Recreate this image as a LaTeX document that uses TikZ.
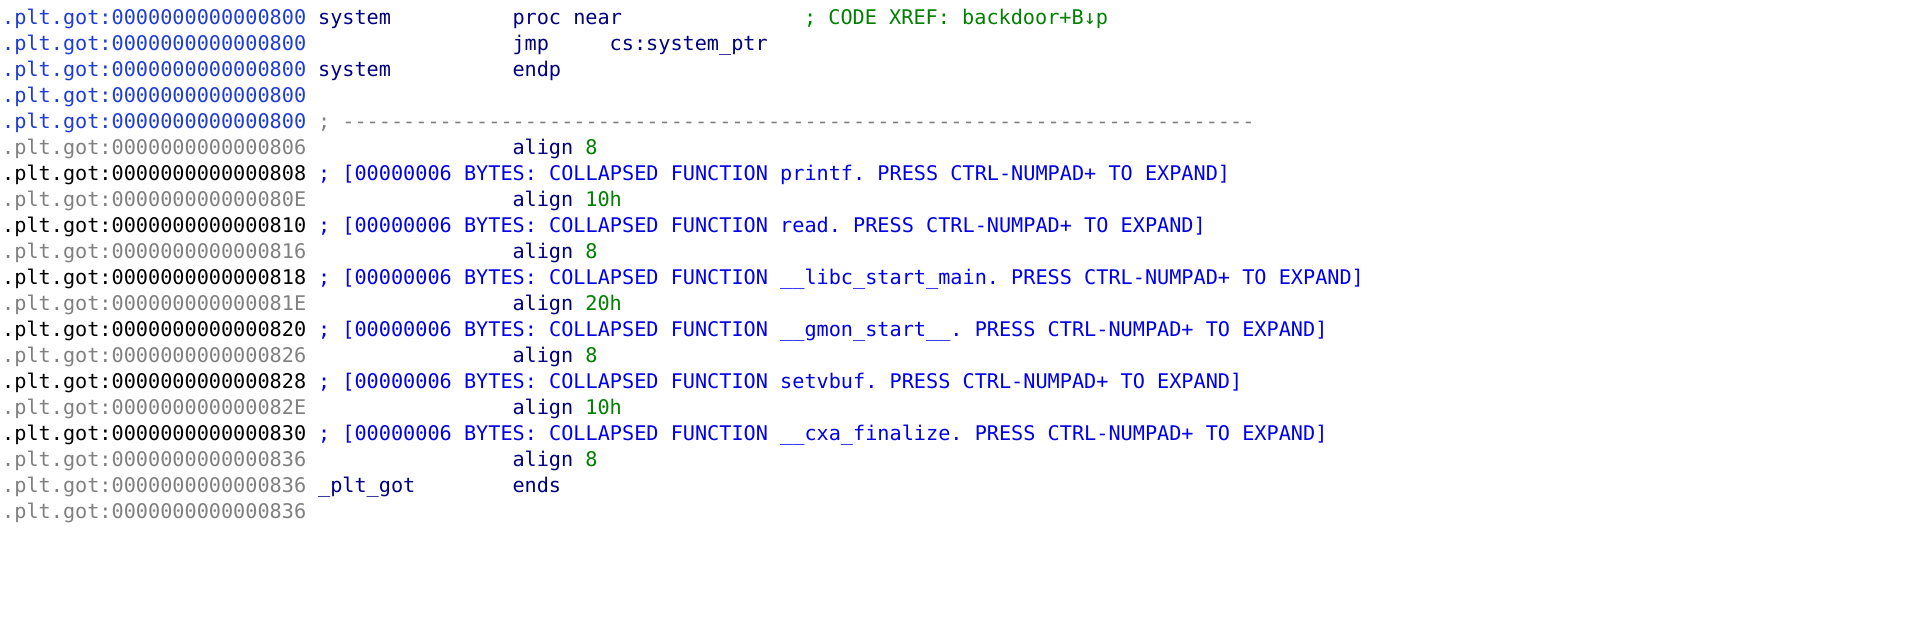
\documentclass[tikz,border=0pt]{standalone}
\usepackage{fontspec}
\setmonofont{DejaVu Sans Mono}
\usetikzlibrary{positioning}
\definecolor{addrblue}{RGB}{30,60,215}
\definecolor{addrgrey}{RGB}{128,128,128}
\definecolor{insnavy}{RGB}{0,0,128}
\definecolor{colblue}{RGB}{0,0,235}
\definecolor{cmtgreen}{RGB}{0,128,0}
% one text piece: line, column, colour, name, text
\newcommand{\seg}[5]{\node[codetxt,text=#3] (#4) at ({2+12.15*#2},{619-26*#1}) {#5};}
\newcommand{\addr}[3]{\seg{#1}{0}{#2}{a#1}{.plt.got:#3}}
\begin{document}
\begin{tikzpicture}[x=1pt,y=1pt,
  codetxt/.style={anchor=base west,inner sep=0pt,font=\ttfamily\fontsize{20.2}{24}\selectfont}]
  \useasboundingbox[fill=white] (0,0) rectangle (1923,644);
  % header of the stub
  \addr{0}{addrblue}{0000000000000800}
  \seg{0}{26}{insnavy}{n0}{system}
  \seg{0}{42}{insnavy}{m0}{proc near}
  \seg{0}{66}{cmtgreen}{c0}{; CODE XREF: backdoor+B↓p}
  \addr{1}{addrblue}{0000000000000800}
  \seg{1}{42}{insnavy}{m1}{jmp}
  \seg{1}{50}{insnavy}{o1}{cs:system\_ptr}
  \addr{2}{addrblue}{0000000000000800}
  \seg{2}{26}{insnavy}{n2}{system}
  \seg{2}{42}{insnavy}{m2}{endp}
  \addr{3}{addrblue}{0000000000000800}
  \addr{4}{addrblue}{0000000000000800}
  \seg{4}{26}{addrgrey}{d4}{; ---------------------------------------------------------------------------}
  % collapsed functions
  \foreach \i/\a/\b/\c/\n/\s in {
      5/0000000000000806/000000000000080E/8/printf/0000000000000808,
      7/0000000000000816/000000000000081E/10h/read/0000000000000810,
      9/0000000000000826/000000000000082E/20h/\_\_libc\_start\_main/0000000000000818,
      11/0000000000000836/000000000000083E/8/\_\_gmon\_start\_\_/0000000000000820,
      13/0000000000000846/000000000000084E/10h/setvbuf/0000000000000828,
      15/0000000000000856/000000000000085E/8/\_\_cxa\_finalize/0000000000000830}{
    \pgfmathtruncatemacro{\j}{\i+1}
    \addr{\j}{black}{\s}
    \seg{\j}{26}{colblue}{f\j}{; [00000006 BYTES: COLLAPSED FUNCTION \n. PRESS CTRL-NUMPAD+ TO EXPAND]}
  }
  \addr{5}{addrgrey}{0000000000000806}
  \seg{5}{42}{insnavy}{m5}{align}\seg{5}{48}{cmtgreen}{v5}{8}
  \addr{7}{addrgrey}{000000000000080E}
  \seg{7}{42}{insnavy}{m7}{align}\seg{7}{48}{cmtgreen}{v7}{10h}
  \addr{9}{addrgrey}{0000000000000816}
  \seg{9}{42}{insnavy}{m9}{align}\seg{9}{48}{cmtgreen}{v9}{8}
  \addr{11}{addrgrey}{000000000000081E}
  \seg{11}{42}{insnavy}{m11}{align}\seg{11}{48}{cmtgreen}{v11}{20h}
  \addr{13}{addrgrey}{0000000000000826}
  \seg{13}{42}{insnavy}{m13}{align}\seg{13}{48}{cmtgreen}{v13}{8}
  \addr{15}{addrgrey}{000000000000082E}
  \seg{15}{42}{insnavy}{m15}{align}\seg{15}{48}{cmtgreen}{v15}{10h}
  \addr{17}{addrgrey}{0000000000000836}
  \seg{17}{42}{insnavy}{m17}{align}\seg{17}{48}{cmtgreen}{v17}{8}
  % segment end
  \addr{18}{addrgrey}{0000000000000836}
  \seg{18}{26}{insnavy}{n18}{\_plt\_got}
  \seg{18}{42}{insnavy}{m18}{ends}
  \addr{19}{addrgrey}{0000000000000836}
\end{tikzpicture}
\end{document}
